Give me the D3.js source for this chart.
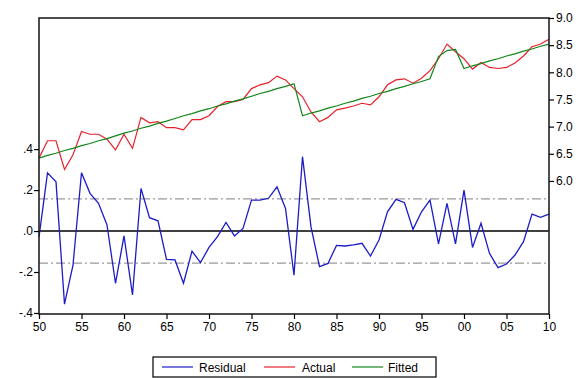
<!DOCTYPE html>
<html lang="en">
<head>
  <meta charset="UTF-8">
  <title>Residual / Actual / Fitted</title>
  <script src="https://d3js.org/d3.v7.js"></script>
  <style>
    body {
      margin: 0;
      background-color: #ffffff;
      font-family: Arial, "Liberation Sans", sans-serif;
    }
    #chart text {
      font-size: 12px;
      fill: #000;
    }
  </style>
</head>
<body>
  <svg id="chart"></svg>

  <script>
    const years = d3.range(1950, 2011);

    const actual = [
      6.42, 6.74, 6.74, 6.21, 6.48, 6.91, 6.86, 6.86, 6.77, 6.57,
      6.86, 6.60, 7.17, 7.07, 7.09, 6.98, 6.98, 6.94, 7.13, 7.13,
      7.20, 7.37, 7.46, 7.46, 7.50, 7.70, 7.77, 7.81, 7.93, 7.86,
      7.70, 7.55, 7.27, 7.09, 7.17, 7.31, 7.34, 7.38, 7.43, 7.40,
      7.55, 7.77, 7.86, 7.88, 7.80, 7.89, 8.03, 8.25, 8.52, 8.38,
      8.25, 8.06, 8.18, 8.09, 8.07, 8.09, 8.17, 8.30, 8.47, 8.52,
      8.61
    ];

    const fitted = [
      6.42, 6.47, 6.51, 6.56, 6.60, 6.65, 6.69, 6.74, 6.78, 6.83,
      6.88, 6.92, 6.97, 7.01, 7.06, 7.10, 7.15, 7.20, 7.24, 7.29,
      7.33, 7.38, 7.42, 7.47, 7.51, 7.56, 7.61, 7.65, 7.70, 7.74,
      7.79, 7.20, 7.25, 7.29, 7.34, 7.38, 7.43, 7.47, 7.52, 7.56,
      7.61, 7.65, 7.70, 7.74, 7.79, 7.83, 7.88, 8.29, 8.40, 8.42,
      8.07, 8.12, 8.16, 8.21, 8.25, 8.30, 8.34, 8.39, 8.43, 8.48,
      8.52
    ];

    const residual = [
      -0.03, 0.284, 0.24, -0.357, -0.166, 0.284, 0.184, 0.135, 0.03, -0.255,
      -0.024, -0.312, 0.208, 0.065, 0.05, -0.138, -0.141, -0.255, -0.098, -0.154,
      -0.08, -0.027, 0.042, -0.024, 0.013, 0.151, 0.151, 0.16, 0.216, 0.11,
      -0.215, 0.363, 0.02, -0.174, -0.158, -0.07, -0.073, -0.068, -0.06, -0.122,
      -0.044, 0.094, 0.155, 0.138, 0.008, 0.094, 0.151, -0.063, 0.135, -0.063,
      0.2, -0.08, 0.038, -0.109, -0.179, -0.161, -0.117, -0.052, 0.083, 0.067,
      0.083
    ];

    const stdErr = 0.157;
    const leftTicks = [-0.4, -0.2, 0, 0.2, 0.4];
    const leftLabels = ["-.4", "-.2", ".0", ".2", ".4"];
    const rightTicks = [6.0, 6.5, 7.0, 7.5, 8.0, 8.5, 9.0];
    const series = ["Residual", "Actual", "Fitted"];
    const colours = { Residual: "#1c1cc8", Actual: "#e8202a", Fitted: "#12861a" };

    const width = 578, height = 378;
    const margin = { top: 18, right: 29, bottom: 64, left: 39 };
    const innerW = width - margin.left - margin.right;
    const innerH = height - margin.top - margin.bottom;

    const svg = d3.select("#chart")
      .attr("width", width)
      .attr("height", height);

    const g = svg.append("g")
      .attr("transform", `translate(${margin.left},${margin.top})`);

    const x = d3.scaleLinear().domain([1950, 2010]).range([0, innerW]);
    const yL = d3.scaleLinear().domain([-0.405, 1.04]).range([innerH, 0]);
    const yR = d3.scaleLinear().domain([3.55, 9.0]).range([innerH, 0]);

    // std error bands
    [stdErr, -stdErr].forEach(v => {
      g.append("line")
        .attr("x1", 0).attr("x2", innerW)
        .attr("y1", yL(v)).attr("y2", yL(v))
        .attr("stroke", "#999")
        .attr("stroke-width", 1.2)
        .attr("stroke-dasharray", "9,3,2,3");
    });

    // zero line
    g.append("line")
      .attr("x1", 0).attr("x2", innerW)
      .attr("y1", yL(0)).attr("y2", yL(0))
      .attr("stroke", "#000")
      .attr("stroke-width", 1.5);

    const lineL = d3.line().x((d, i) => x(years[i])).y(d => yL(d));
    const lineR = d3.line().x((d, i) => x(years[i])).y(d => yR(d));

    g.append("path").datum(residual)
      .attr("d", lineL).attr("fill", "none")
      .attr("stroke", colours.Residual).attr("stroke-width", 1.3);
    g.append("path").datum(actual)
      .attr("d", lineR).attr("fill", "none")
      .attr("stroke", colours.Actual).attr("stroke-width", 1.2);
    g.append("path").datum(fitted)
      .attr("d", lineR).attr("fill", "none")
      .attr("stroke", colours.Fitted).attr("stroke-width", 1.2);

    // frame
    g.append("rect")
      .attr("width", innerW).attr("height", innerH)
      .attr("fill", "none")
      .attr("stroke", "#222")
      .attr("stroke-width", 1.6);

    // bottom axis: minor every year, labels every 5
    const xAxis = g.append("g").attr("transform", `translate(0,${innerH})`);
    xAxis.call(d3.axisBottom(x).tickValues(years).tickSize(3).tickFormat(""));
    xAxis.call(d3.axisBottom(x).tickValues(d3.range(1950, 2011, 5)).tickSize(5)
      .tickFormat(d => String(d % 100).padStart(2, "0")));
    xAxis.selectAll(".domain").remove();
    xAxis.selectAll("line").attr("stroke", "#000").attr("stroke-width", 1.2);
    xAxis.selectAll("text").attr("dy", "0.95em").attr("y", 6);

    // left axis
    const leftAxis = g.append("g")
      .call(d3.axisLeft(yL).tickValues(leftTicks).tickSize(5)
        .tickFormat((d, i) => leftLabels[i]));
    leftAxis.select(".domain").remove();
    leftAxis.selectAll("line").attr("stroke", "#000").attr("stroke-width", 1.2);
    leftAxis.selectAll("text").attr("x", -6);

    // right axis
    const rightAxis = g.append("g")
      .attr("transform", `translate(${innerW},0)`)
      .call(d3.axisRight(yR).tickValues(rightTicks).tickSize(5).tickFormat(d3.format(".1f")));
    rightAxis.select(".domain").remove();
    rightAxis.selectAll("line").attr("stroke", "#000").attr("stroke-width", 1.2);
    rightAxis.selectAll("text").attr("x", 7);

    // legend
    const legend = svg.append("g").attr("transform", "translate(153,357)");
    legend.append("rect")
      .attr("width", 283).attr("height", 20)
      .attr("fill", "#fff").attr("stroke", "#000").attr("stroke-width", 1.2);

    const legendX = [9, 111, 199];
    const legendTextX = [46, 149, 235];
    series.forEach((s, i) => {
      legend.append("line")
        .attr("x1", legendX[i]).attr("x2", legendX[i] + 31)
        .attr("y1", 10).attr("y2", 10)
        .attr("stroke", colours[s]).attr("stroke-width", 1.2);
      legend.append("text")
        .attr("x", legendTextX[i]).attr("y", 14.5)
        .text(s);
    });
  </script>
</body>
</html>
